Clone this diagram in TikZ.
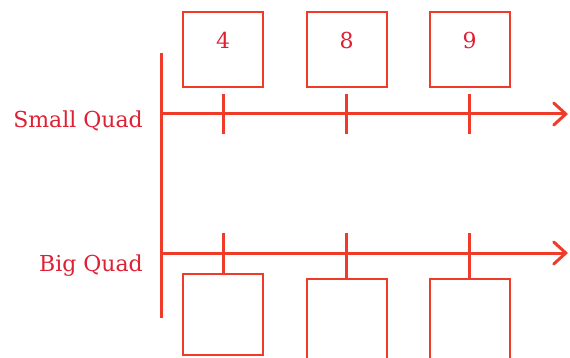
\documentclass[tikz,border=0pt]{standalone}
\usepackage{fontspec}
\setmainfont{DejaVu Serif}
\usetikzlibrary{arrows.meta,positioning}
\definecolor{qLine}{RGB}{240,58,42}
\definecolor{qText}{RGB}{222,32,52}

\begin{document}
\begin{tikzpicture}[x=1pt, y=-1pt, font=\fontsize{22}{26}\selectfont,
  axis/.style={qLine, line width=3pt},
  qtick/.style={qLine, line width=3pt},
  quadbox/.style={draw=qLine, line width=2pt, inner sep=0pt, minimum width=80pt},
  qnum/.style={text=qText, anchor=base, yshift=-38pt},
  qlabel/.style={text=qText, anchor=base east, inner sep=0pt}]
\useasboundingbox (0,0) rectangle (570,358);
\clip (0,0) rectangle (570,358);
% spine and the two axes
\coordinate (spineTop) at (161,53);
\coordinate (spineBot) at (161,318);
\coordinate (smallStart) at (161,114);
\coordinate (smallEnd) at (568,114);
\coordinate (bigStart) at (161,253);
\coordinate (bigEnd) at (568,253);
\draw[axis] (spineTop) -- (spineBot);
\draw[axis, -{Straight Barb[length=12pt, width=22pt, line cap=round]}] (smallStart) -- (smallEnd);
\draw[axis, -{Straight Barb[length=12pt, width=22pt, line cap=round]}] (bigStart) -- (bigEnd);
\node[qlabel] (smallLbl) at (143,128) {Small Quad};
\node[qlabel] (bigLbl) at (143,271) {Big Quad};
% small quad boxes
\foreach \n/\x in {4/223, 8/346.5, 9/469.5}{
  \node[quadbox, minimum height=75pt, label={[qnum]north:\n}] (small\n) at (\x,49.5) {};
  \draw[qtick] (\x,94) -- (\x,134);
}
% big quad boxes
\foreach \i/\x/\t in {1/223/273, 2/346.5/278, 3/469.5/278}{
  \node[quadbox, minimum height=81pt, anchor=north] (big\i) at (\x,\t) {};
  \coordinate (bt\i) at (\x,233);
  \draw[qtick] (bt\i) -- (big\i.north);
}
\end{tikzpicture}
\end{document}
